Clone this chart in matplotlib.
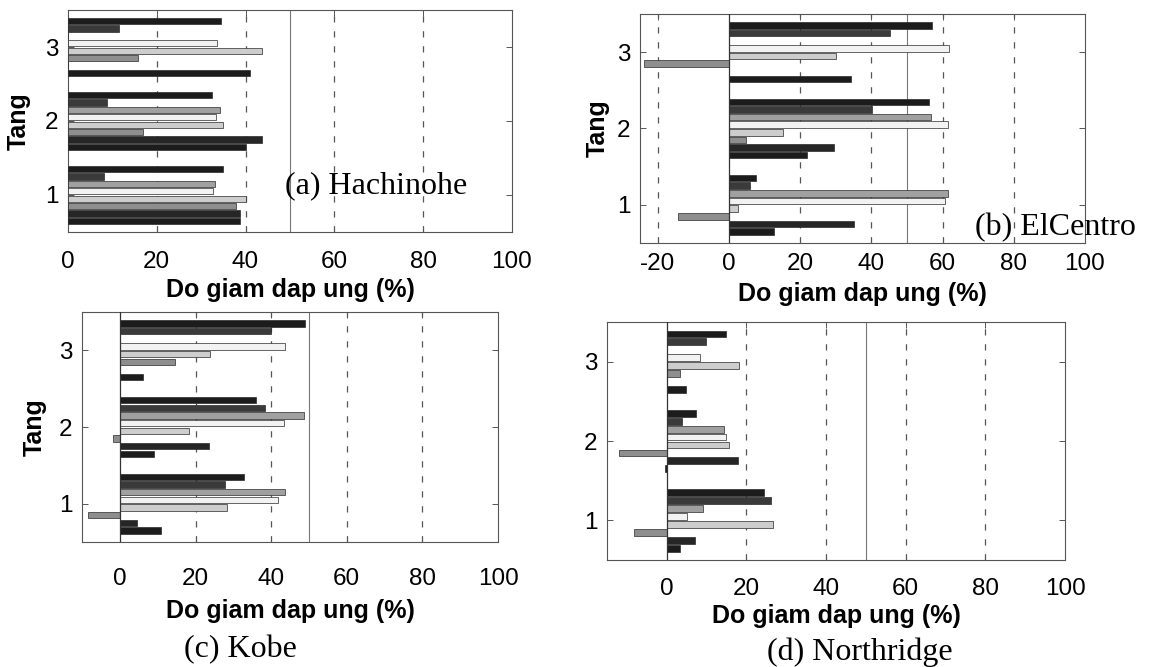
import matplotlib
matplotlib.use("Agg")
import matplotlib.pyplot as plt
import numpy as np

plt.rcParams['axes.unicode_minus'] = False

# ---------------- data ----------------
floors = [1, 2, 3]
xticks_main = [0, 20, 40, 60, 80, 100]
xticks_b = [-20, 0, 20, 40, 60, 80, 100]
# bar values per floor, listed from the top bar of each group to the bottom bar
hachinohe_f1 = [34.9, 8.2, 33.2, 32.7, 40.1, 37.8, 38.7, 38.7]
hachinohe_f2 = [32.5, 8.9, 34.2, 33.3, 35.0, 17.0, 43.6, 40.1]
hachinohe_f3 = [34.5, 11.6, 0.0, 33.6, 43.8, 15.8, 0.0, 41.1]

elcentro_f1 = [7.5, 5.9, 61.4, 60.7, 2.5, -14.2, 35.2, 12.7]
elcentro_f2 = [56.3, 40.2, 56.8, 61.5, 15.2, 4.9, 29.6, 22.0]
elcentro_f3 = [57.0, 45.3, 0.0, 61.7, 30.0, -24.0, 0.0, 34.4]

kobe_f1 = [32.9, 27.7, 43.7, 41.8, 28.2, -8.3, 4.5, 11.0]
kobe_f2 = [36.1, 38.4, 48.7, 43.5, 18.4, -1.9, 23.5, 8.9]
kobe_f3 = [49.0, 39.9, 0.0, 43.7, 23.8, 14.7, 0.0, 6.2]

northridge_f1 = [24.3, 26.3, 9.1, 5.0, 26.7, -8.2, 7.0, 3.3]
northridge_f2 = [7.3, 3.8, 14.5, 15.0, 15.6, -12.1, 17.9, -0.5]
northridge_f3 = [14.8, 9.9, 0.0, 8.4, 18.2, 3.4, 0.0, 4.8]

bar_colors = ['#1c1c1c', '#3a3a3a', '#a0a0a0', '#f2f2f2',
              '#cdcdcd', '#8e8e8e', '#262626', '#1c1c1c']

xlabel_txt = "Do giam dap ung (%)"
ylabel_txt = "Tang"

SANS = ['Liberation Sans', 'DejaVu Sans']
SERIF = ['Liberation Serif', 'DejaVu Serif']

fig = plt.figure(figsize=(11.54, 6.67), dpi=100)

def panel(rect, data, xlim, xticks, ylabel=True, labelpad_y=6,
          xpad=9, xlabelpad=3):
    ax = fig.add_axes(rect)
    n = 8
    offsets = 0.35 - 0.1 * np.arange(n)
    for i in range(n):
        vals = [d[i] for d in data]
        ys = [f + offsets[i] for f in floors]
        ax.barh(ys, vals, height=0.086, color=bar_colors[i],
                edgecolor='#2a2a2a', linewidth=0.5, zorder=3)
    ax.set_xlim(*xlim)
    ax.set_ylim(0.5, 3.5)
    for t in xticks:
        if t not in (0, 100):
            ax.axvline(t, color='#555555', lw=0.9, ls=(0, (5, 7)), zorder=1)
    ax.axvline(50, color='#777777', lw=0.8, zorder=1)
    if xlim[0] < 0:
        ax.axvline(0, color='#333333', lw=0.9, zorder=4)
    ax.set_xticks(xticks)
    ax.set_yticks(floors)
    ax.tick_params(direction='in', top=True, right=True, length=4,
                   width=0.7, color='#555555', labelsize=17.5)
    ax.tick_params(axis='x', pad=xpad)
    ax.tick_params(axis='y', pad=7)
    for lab in ax.get_xticklabels() + ax.get_yticklabels():
        lab.set_family(SANS)
    for s in ax.spines.values():
        s.set_linewidth(0.8)
        s.set_color('#555555')
    ax.set_xlabel(xlabel_txt, fontsize=18, fontweight='bold',
                  family=SANS, labelpad=xlabelpad)
    if ylabel:
        ax.set_ylabel(ylabel_txt, fontsize=18, fontweight='bold',
                      family=SANS, labelpad=labelpad_y)
    return ax

ax_a = panel([0.0589, 0.6522, 0.3847, 0.3328],
             [hachinohe_f1, hachinohe_f2, hachinohe_f3], (0, 100), xticks_main,
             labelpad_y=10, xpad=14, xlabelpad=3)
ax_a.text(0.489, 0.207, "(a) Hachinohe", transform=ax_a.transAxes,
          fontsize=23, family=SERIF, va='center', ha='left', zorder=6)

ax_b = panel([0.5546, 0.6357, 0.3856, 0.3433],
             [elcentro_f1, elcentro_f2, elcentro_f3], (-25, 100), xticks_b,
             labelpad_y=5, xpad=7, xlabelpad=5)
ax_b.text(0.753, 0.066, "(b) ElCentro", transform=ax_b.transAxes,
          fontsize=23, family=SERIF, va='center', ha='left', zorder=6,
          clip_on=False)

ax_c = panel([0.0711, 0.1874, 0.3605, 0.3448],
             [kobe_f1, kobe_f2, kobe_f3], (-10, 100), xticks_main,
             labelpad_y=9, xpad=19, xlabelpad=6)
fig.text(0.208, 0.0255, "(c) Kobe", fontsize=23, family=SERIF,
         ha='center', va='center')

ax_d = panel([0.526, 0.1604, 0.3969, 0.3568],
             [northridge_f1, northridge_f2, northridge_f3], (-15, 100),
             xticks_main, ylabel=False, xpad=13, xlabelpad=3)
fig.text(0.745, 0.0225, "(d) Northridge", fontsize=23, family=SERIF,
         ha='center', va='center')

fig.savefig("out.png", dpi=100, facecolor='white')
